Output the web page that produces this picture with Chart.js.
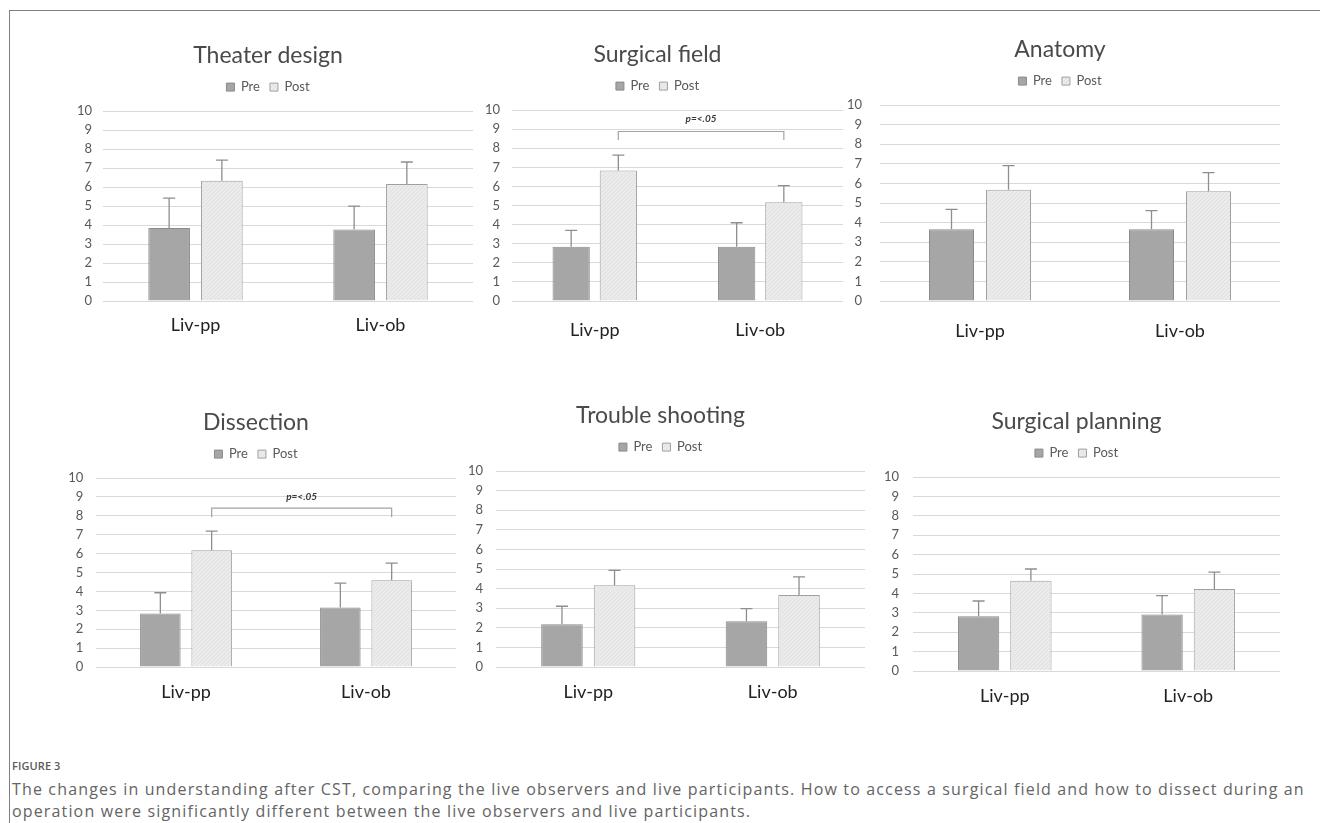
<!DOCTYPE html>
<html>
<head>
<meta charset="utf-8">
<title>Figure 3</title>
<script src="https://cdn.jsdelivr.net/npm/chart.js@4.4.1/dist/chart.umd.min.js"></script>
<style>
  html, body { margin: 0; padding: 0; background: #fff; }
  body { width: 1320px; height: 823px; position: relative; overflow: hidden; font-family: "Open Sans", sans-serif; }
  #frame { position: absolute; left: 9px; top: 10px; width: 1330px; height: 830px;
           border-left: 1px solid #7f7f7f; border-top: 1px solid #7f7f7f; box-sizing: border-box; }
  canvas { position: absolute; }
  #figLabel { position: absolute; left: 12px; top: 758px; font: 600 11px "Open Sans", sans-serif;
              color: #5a5a5a; letter-spacing: 0.1px; white-space: nowrap; }
  #caption { position: absolute; left: 12px; top: 778px; font: 16px/22px "Open Sans", sans-serif;
             color: #646464; letter-spacing: 1.15px; white-space: nowrap; }
</style>
</head>
<body>
<div id="frame"></div>
<canvas id="c0"></canvas>
<canvas id="c1"></canvas>
<canvas id="c2"></canvas>
<canvas id="c3"></canvas>
<canvas id="c4"></canvas>
<canvas id="c5"></canvas>
<div id="figLabel">FIGURE 3</div>
<div id="caption">The changes in understanding after CST, comparing the live observers and live participants. How to access a surgical field and how to dissect during an<br>operation were significantly different between the live observers and live participants.</div>

<script>
// ---- data -------------------------------------------------------------
const panelTitles = ['Theater design', 'Surgical field', 'Anatomy',
                     'Dissection', 'Trouble shooting', 'Surgical planning'];
const categories  = ['Liv-pp', 'Liv-ob'];
const seriesNames = ['Pre', 'Post'];

// mean scores per panel: [Liv-pp, Liv-ob]
const preMeans  = [[3.85, 3.77], [2.84, 2.84], [3.66, 3.66], [2.83, 3.15], [2.18, 2.34], [2.82, 2.92]];
const postMeans = [[6.33, 6.16], [6.83, 5.17], [5.68, 5.60], [6.18, 4.59], [4.17, 3.68], [4.66, 4.23]];

// standard deviations (upper error bars)
const preSD  = [[1.57, 1.23], [0.86, 1.26], [1.02, 0.95], [1.10, 1.29], [0.92, 0.64], [0.79, 0.97]];
const postSD = [[1.09, 1.16], [0.81, 0.87], [1.23, 0.95], [1.01, 0.91], [0.76, 0.92], [0.60, 0.87]];

const yTicks = [0, 1, 2, 3, 4, 5, 6, 7, 8, 9, 10];

// significance brackets between the two Post bars (score units)
const sigText    = 'p=<.05';
const sigLevel   = [null, 8.88, null, 8.41, null, null];
const sigDrop    = [null, 8.44, null, 7.93, null, null];
const sigLabelAt = [null, 9.54, null, 9.00, null, null];

// ---- panel placement (px) ---------------------------------------------
const panels = [
  { left: 63,  top: 42,  width: 429, height: 304, padR: 19, yPad: 11, xPad: 13.4 },
  { left: 472, top: 41,  width: 388, height: 305, padR: 17, yPad: 12, xPad: 18.4 },
  { left: 840, top: 36,  width: 455, height: 310, padR: 15, yPad: 18, xPad: 18.9 },
  { left: 56,  top: 409, width: 418, height: 303, padR: 18, yPad: 12.7, xPad: 14.2 },
  { left: 456, top: 402, width: 426, height: 310, padR: 17, yPad: 13, xPad: 13.9 },
  { left: 873, top: 408, width: 422, height: 308, padR: 15, yPad: 14, xPad: 13.9 }
];

// fine, low-contrast cross-hatch used for the Post bars
function hatchFill() {
  const c = document.createElement('canvas');
  c.width = 4; c.height = 4;
  const g = c.getContext('2d');
  g.fillStyle = '#ebebeb';
  g.fillRect(0, 0, 4, 4);
  g.fillStyle = '#dddddd';
  [[0, 0], [2, 0], [1, 1], [3, 1], [0, 2], [2, 2], [1, 3], [3, 3]].forEach(([x, y]) => {
    if ((x + y) % 4 === 0) g.fillRect(x, y, 1, 1);
  });
  g.fillStyle = '#e3e3e3';
  g.fillRect(1, 3, 1, 1);
  g.fillRect(3, 1, 1, 1);
  return g.createPattern(c, 'repeat');
}

// extra room between the legend row and the plot
const legendGap = {
  id: 'legendGap',
  beforeInit(chart) {
    const lg = chart.legend;
    if (!lg) return;
    const fit = lg.fit;
    lg.fit = function () { fit.call(this); this.height += 7.5; };
  }
};

// upper error bars plus optional significance bracket
const errorBars = {
  id: 'errorBars',
  afterDatasetsDraw(chart, args, opts) {
    const ctx = chart.ctx;
    const y = chart.scales.y;
    ctx.save();
    ctx.strokeStyle = '#8e8e8e';
    ctx.lineWidth = 1.3;
    chart.data.datasets.forEach((ds, di) => {
      chart.getDatasetMeta(di).data.forEach((bar, j) => {
        const top = y.getPixelForValue(ds.data[j] + ds.sd[j]);
        ctx.beginPath();
        ctx.moveTo(bar.x, bar.y);
        ctx.lineTo(bar.x, top);
        ctx.moveTo(bar.x - 6, top);
        ctx.lineTo(bar.x + 6, top);
        ctx.stroke();
      });
    });
    if (opts.level != null) {
      const posts = chart.getDatasetMeta(1).data;
      const x1 = posts[0].x, x2 = posts[1].x;
      const yl = y.getPixelForValue(opts.level);
      const yd = y.getPixelForValue(opts.drop);
      ctx.strokeStyle = '#a3a3a3';
      ctx.lineWidth = 1.2;
      ctx.beginPath();
      ctx.moveTo(x1, yd); ctx.lineTo(x1, yl); ctx.lineTo(x2, yl); ctx.lineTo(x2, yd);
      ctx.stroke();
      ctx.fillStyle = '#3a3a3a';
      ctx.font = 'italic bold 10px Lato';
      ctx.textAlign = 'center';
      ctx.textBaseline = 'middle';
      ctx.fillText(opts.text, (x1 + x2) / 2, y.getPixelForValue(opts.labelAt));
    }
    ctx.restore();
  }
};

function drawPanel(i) {
  const p = panels[i];
  const cv = document.getElementById('c' + i);
  cv.width = p.width; cv.height = p.height;
  cv.style.left = p.left + 'px'; cv.style.top = p.top + 'px';
  cv.style.width = p.width + 'px'; cv.style.height = p.height + 'px';
  const hatch = hatchFill();

  new Chart(cv, {
    type: 'bar',
    data: {
      labels: categories,
      datasets: [
        { label: seriesNames[0], data: preMeans[i], sd: preSD[i],
          backgroundColor: '#a6a6a6', borderColor: '#8a8a8a', borderWidth: 1,
          categoryPercentage: 0.57, barPercentage: 0.79 },
        { label: seriesNames[1], data: postMeans[i], sd: postSD[i],
          backgroundColor: hatch, borderColor: '#a0a0a0', borderWidth: 1,
          categoryPercentage: 0.57, barPercentage: 0.79 }
      ]
    },
    options: {
      responsive: false,
      animation: false,
      events: [],
      layout: { padding: { left: 0, right: p.padR, top: 0, bottom: 0 } },
      plugins: {
        title: { display: true, text: panelTitles[i], color: '#4a4a4a',
                 font: { family: 'Lato', size: 23, weight: 'normal' },
                 padding: { top: 0, bottom: 1 } },
        legend: { position: 'top',
                  labels: { boxWidth: 8, boxHeight: 8, padding: 10, color: '#595959',
                            font: { family: 'Lato', size: 13 } } },
        tooltip: { enabled: false },
        errorBars: { level: sigLevel[i], drop: sigDrop[i], labelAt: sigLabelAt[i], text: sigText }
      },
      scales: {
        x: {
          grid: { display: false, drawTicks: false },
          border: { display: false },
          ticks: { color: '#222222', font: { family: 'Lato', size: 18 }, padding: p.xPad },
          afterFit: s => { s.height = 45; }
        },
        y: {
          min: 0, max: 10,
          grid: { color: '#d9d9d9', lineWidth: 1, drawTicks: false },
          border: { display: false },
          ticks: { color: '#595959', font: { family: 'Lato', size: 13 }, padding: p.yPad },
          afterBuildTicks: s => { s.ticks = yTicks.map(v => ({ value: v })); },
          afterFit: s => { s.width = 40; }
        }
      }
    },
    plugins: [legendGap, errorBars]
  });
}

Promise.all([
  document.fonts.load('23px Lato'),
  document.fonts.load('italic bold 10px Lato'),
  document.fonts.load('16px "Open Sans"')
]).catch(() => {}).then(() => {
  for (let i = 0; i < panelTitles.length; i++) drawPanel(i);
});
</script>
</body>
</html>
